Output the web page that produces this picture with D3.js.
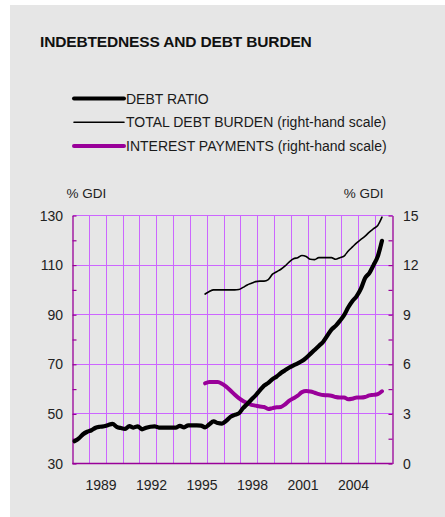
<!DOCTYPE html>
<html>
<head>
<meta charset="utf-8">
<script src="https://cdn.jsdelivr.net/npm/d3@7"></script>
<style>
  html, body { margin: 0; padding: 0; background: #ffffff; }
  svg { display: block; font-family: "Liberation Sans", Arial, Helvetica, sans-serif; }
</style>
</head>
<body>
<svg id="chart" width="445" height="517"></svg>
<script>
// Quarterly series. Debt ratio (% GDI, left scale) from 1987 Q2,
// debt burden and interest payments (% GDI, right scale) from 1995 Q1.
const debtStart = [1987, 2];
const debtRatio = [
  39.0, 40.1, 41.8, 42.8, 43.4, 44.4, 44.8, 45.0, 45.5, 46.0,
  44.8, 44.3, 44.0, 45.1, 44.5, 45.0, 43.8, 44.4, 44.8, 45.0,
  44.5, 44.5, 44.5, 44.5, 44.5, 45.2, 44.6, 45.4, 45.4, 45.4,
  45.3, 44.6, 45.8, 47.0, 46.3, 46.1, 47.2, 48.8, 49.6, 50.2,
  52.3, 54.0, 55.8, 57.5, 59.5, 61.4, 62.5, 64.0, 65.1, 66.5,
  67.6, 68.7, 69.6, 70.4, 71.3, 72.6, 74.2, 75.8, 77.4, 79.0,
  81.5, 84.0, 85.5, 87.5, 89.8, 93.0, 95.5, 97.5, 100.5, 104.8,
  106.8, 110.0, 113.5, 119.8
];

const burdenStart = [1995, 1];
const totalDebtBurden = [
  10.25, 10.4, 10.5, 10.5, 10.5, 10.5, 10.5, 10.5, 10.52, 10.65,
  10.8, 10.9, 11.0, 11.03, 11.03, 11.12, 11.45, 11.6, 11.75, 11.95,
  12.2, 12.38, 12.45, 12.58, 12.52, 12.35, 12.33, 12.45, 12.45, 12.45,
  12.45, 12.35, 12.45, 12.55, 12.85, 13.1, 13.35, 13.55, 13.75, 14.0,
  14.2, 14.4, 14.9
];
const interestPayments = [
  4.85, 4.93, 4.93, 4.93, 4.83, 4.65, 4.42, 4.17, 3.95, 3.78,
  3.65, 3.55, 3.5, 3.45, 3.42, 3.3, 3.35, 3.4, 3.42, 3.58,
  3.8, 3.95, 4.1, 4.32, 4.38, 4.35, 4.28, 4.2, 4.14, 4.13,
  4.1, 4.02, 3.99, 3.99, 3.88, 3.92, 3.99, 3.99, 4.02, 4.12,
  4.15, 4.2, 4.37
];

const xLabelYears = [1989, 1992, 1995, 1998, 2001, 2004];
const gridYears = d3.range(1988, 2006);
const leftTicks = [30, 50, 70, 90, 110, 130];
const rightTicks = [0, 3, 6, 9, 12, 15];

const title = "INDEBTEDNESS AND DEBT BURDEN";
const unitLabel = "% GDI";
const legendItems = [
  { label: "DEBT RATIO", color: "#000000", width: 4 },
  { label: "TOTAL DEBT BURDEN (right-hand scale)", color: "#000000", width: 1.6 },
  { label: "INTEREST PAYMENTS (right-hand scale)", color: "#990099", width: 4 }
];

// Convert a quarterly series to {t, v} points at mid-quarter decimal years.
function toPoints(start, values) {
  return values.map((v, i) => {
    const q = start[1] - 1 + i;
    return { t: start[0] + (q + 0.5) / 4, v: v };
  });
}

const svg = d3.select("#chart");
const W = 445, H = 517;
const plot = { left: 72.5, right: 392.5, top: 215.5, bottom: 463.5 };

const gridColor = "#cc66ff";
const axisColor = "#990099";
const crisp = v => Math.round(v - 0.5) + 0.5;

// Panel background
svg.append("rect")
  .attr("x", 10).attr("y", 5)
  .attr("width", W - 10).attr("height", H - 5)
  .attr("fill", "#e6e6e6");

// Title
svg.append("text")
  .attr("x", 40).attr("y", 47)
  .attr("font-size", 15.5).attr("font-weight", "bold")
  .attr("letter-spacing", -0.15)
  .attr("fill", "#111")
  .text(title);

// Legend
const legend = svg.append("g");
legendItems.forEach((d, i) => {
  const y = 98.5 + i * 23.7;
  legend.append("line")
    .attr("x1", 74).attr("x2", 124)
    .attr("y1", y).attr("y2", y)
    .attr("stroke", d.color).attr("stroke-width", d.width)
    .attr("stroke-linecap", "round");
  legend.append("text")
    .attr("x", 126).attr("y", y + 5)
    .attr("font-size", 14).attr("fill", "#1a1a1a")
    .text(d.label);
});

// Scales
const x = d3.scaleLinear().domain([1987.25, 2006.25]).range([plot.left, plot.right]);
const yL = d3.scaleLinear().domain([30, 130]).range([plot.bottom, plot.top]);
const yR = d3.scaleLinear().domain([0, 15]).range([plot.bottom, plot.top]);

// Unit labels
svg.append("text")
  .attr("x", 66.5).attr("y", 198)
  .attr("font-size", 13.5).attr("fill", "#222")
  .text(unitLabel);
svg.append("text")
  .attr("x", 383.5).attr("y", 198)
  .attr("text-anchor", "end")
  .attr("font-size", 13.5).attr("fill", "#222")
  .text(unitLabel);

// Grid
const grid = svg.append("g")
  .attr("stroke", gridColor).attr("stroke-width", 1)
  .attr("shape-rendering", "crispEdges");
grid.selectAll("line.v")
  .data(gridYears)
  .join("line")
  .attr("class", "v")
  .attr("x1", d => crisp(x(d + 0.25))).attr("x2", d => crisp(x(d + 0.25)))
  .attr("y1", plot.top).attr("y2", plot.bottom);
grid.selectAll("line.h")
  .data(leftTicks.slice(1))
  .join("line")
  .attr("class", "h")
  .attr("x1", plot.left).attr("x2", plot.right)
  .attr("y1", d => crisp(yL(d))).attr("y2", d => crisp(yL(d)));

// Axes: left, right and bottom frame with inward minor ticks
const axisLeft = d3.axisLeft(yL).tickValues(d3.range(30, 131, 10)).tickSizeInner(-4).tickSizeOuter(0).tickFormat("");
const axisRight = d3.axisRight(yR).tickValues(d3.range(0, 15.01, 1.5)).tickSizeInner(-4).tickSizeOuter(0).tickFormat("");
const gL = svg.append("g").attr("transform", `translate(${plot.left},0)`).call(axisLeft);
const gR = svg.append("g").attr("transform", `translate(${plot.right},0)`).call(axisRight);
[gL, gR].forEach(g => {
  g.select(".domain").attr("stroke", axisColor).attr("stroke-width", 1.3);
  g.selectAll(".tick line").attr("stroke", axisColor).attr("stroke-width", 1.2);
});
svg.append("line")
  .attr("x1", plot.left).attr("x2", plot.right)
  .attr("y1", plot.bottom).attr("y2", plot.bottom)
  .attr("stroke", axisColor).attr("stroke-width", 1.3);

// Tick labels
svg.append("g").selectAll("text")
  .data(leftTicks)
  .join("text")
  .attr("x", 63).attr("y", d => yL(d) + 5)
  .attr("text-anchor", "end")
  .attr("font-size", 14).attr("fill", "#222")
  .text(d => d);
svg.append("g").selectAll("text")
  .data(rightTicks)
  .join("text")
  .attr("x", 403).attr("y", d => yR(d) + 5)
  .attr("font-size", 14).attr("fill", "#222")
  .text(d => d);
svg.append("g").selectAll("text")
  .data(xLabelYears)
  .join("text")
  .attr("x", d => x(d) - 1).attr("y", 489.5)
  .attr("text-anchor", "middle")
  .attr("font-size", 14).attr("fill", "#222")
  .text(d => d);

// Series
const lineL = d3.line().x(d => x(d.t)).y(d => yL(d.v)).curve(d3.curveMonotoneX);
const lineR = d3.line().x(d => x(d.t)).y(d => yR(d.v)).curve(d3.curveMonotoneX);

svg.append("path")
  .datum(toPoints(burdenStart, totalDebtBurden))
  .attr("fill", "none").attr("stroke", "#000").attr("stroke-width", 1.6)
  .attr("stroke-linejoin", "round").attr("stroke-linecap", "round")
  .attr("d", lineR);

svg.append("path")
  .datum(toPoints(burdenStart, interestPayments))
  .attr("fill", "none").attr("stroke", "#990099").attr("stroke-width", 4)
  .attr("stroke-linejoin", "round").attr("stroke-linecap", "round")
  .attr("d", lineR);

svg.append("path")
  .datum(toPoints(debtStart, debtRatio))
  .attr("fill", "none").attr("stroke", "#000").attr("stroke-width", 4.2)
  .attr("stroke-linejoin", "round").attr("stroke-linecap", "round")
  .attr("d", lineL);
</script>
</body>
</html>
